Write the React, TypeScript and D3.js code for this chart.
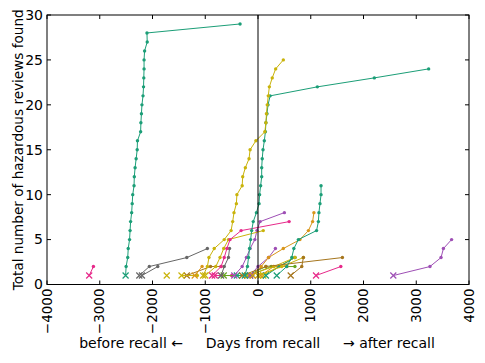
import * as d3 from "d3"

// each series: [days from recall, hazardous reviews found]
type Pt = [number, number]

const xTicks = [-4000, -3000, -2000, -1000, 0, 1000, 2000, 3000, 4000]
const yTicks = [0, 5, 10, 15, 20, 25, 30]

const tealLeft: Pt[] = [[-2510, 1], [-2500, 2], [-2470, 3], [-2460, 4], [-2435, 5], [-2425, 6], [-2415, 7], [-2395, 8], [-2385, 9], [-2375, 10], [-2350, 11], [-2345, 12], [-2330, 13], [-2310, 14], [-2290, 15], [-2285, 16], [-2225, 17], [-2220, 18], [-2210, 19], [-2200, 20], [-2180, 21], [-2170, 22], [-2165, 23], [-2160, 24], [-2160, 25], [-2150, 26], [-2100, 27], [-2105, 28], [-340, 29]]
const tealMid: Pt[] = [[-250, 1], [-200, 2], [-180, 3], [-160, 4], [-140, 5], [-120, 6], [-90, 7], [-30, 8], [20, 9], [30, 10], [50, 11], [70, 12], [70, 13], [80, 14], [95, 15], [120, 16], [140, 17], [150, 18], [170, 19], [190, 20], [230, 21], [1125, 22], [2205, 23], [3235, 24]]
const tealRight: Pt[] = [[355, 1], [545, 2], [640, 3], [680, 4], [765, 5], [1110, 6], [1145, 7], [1155, 8], [1175, 9], [1195, 10], [1195, 11]]
const yellowBig: Pt[] = [[-1040, 1], [-960, 2], [-930, 3], [-830, 4], [-640, 5], [-510, 6], [-480, 7], [-455, 8], [-410, 9], [-400, 10], [-300, 11], [-290, 12], [-240, 13], [-170, 14], [-150, 15], [-40, 16], [130, 17], [150, 18], [160, 19], [175, 20], [195, 21], [215, 22], [270, 23], [335, 24], [480, 25]]
const pinkFarLeft: Pt[] = [[-3200, 1], [-3120, 2]]
const grayA: Pt[] = [[-2250, 1], [-2060, 2], [-1350, 3], [-960, 4]]
const grayB: Pt[] = [[-2200, 1], [-1900, 2]]
const yellowLone: Pt[] = [[-1730, 1]]
const pinkMid: Pt[] = [[-870, 1], [-700, 2], [-640, 3], [-590, 4], [-530, 5], [-320, 6], [590, 7]]
const yellowMid: Pt[] = [[-1000, 1], [-800, 2], [-720, 3], [-650, 4], [-560, 5], [100, 6]]
const purpleMid: Pt[] = [[-450, 1], [-300, 2], [-220, 3], [-150, 4], [-60, 5], [-20, 6], [40, 7], [500, 8]]
const orangeA: Pt[] = [[-100, 1], [60, 2], [200, 3], [480, 4], [795, 5], [955, 6], [1035, 7], [1060, 8]]
const purpleRight: Pt[] = [[2565, 1], [3260, 2], [3470, 3], [3515, 4], [3670, 5]]
const pinkRight: Pt[] = [[1100, 1], [1570, 2]]
const brownLong: Pt[] = [[-300, 1], [150, 2], [1600, 3]]
const brownSmall: Pt[] = [[620, 1], [830, 2], [860, 3]]
const grayC: Pt[] = [[-700, 1], [-640, 2], [-560, 3], [-540, 4]]
const yellowRight: Pt[] = [[-200, 1], [300, 2], [700, 3]]
const yellowRight2: Pt[] = [[0, 1], [450, 2], [860, 3]]
const purpleC: Pt[] = [[-150, 1], [0, 2], [200, 3], [330, 4]]
const brownS1: Pt[] = [[-1350, 1], [-900, 2], [-700, 2]]
const yellowS1: Pt[] = [[-1450, 1], [-1150, 1]]
const orangeS2: Pt[] = [[-1200, 1], [-1060, 2]]
const pinkS2: Pt[] = [[-820, 1], [-500, 1]]
const greenS1: Pt[] = [[-650, 1], [-200, 1], [150, 2]]
const tealS1: Pt[] = [[-400, 1], [-100, 1]]
const greenS2: Pt[] = [[-150, 1], [250, 2], [700, 2]]
const yellowS3: Pt[] = [[100, 1], [700, 3]]
const orangeS3: Pt[] = [[50, 1], [300, 2], [550, 2]]
const tealS2: Pt[] = [[150, 1], [400, 2], [700, 3]]

const teal = "#1b9e77"
const yellow = "#c9b30a"
const pink = "#e7298a"
const gray = "#666666"
const purple = "#9e4fb5"
const orange = "#d9961a"
const brown = "#a6761d"
const green = "#66a61e"

const series: { pts: Pt[]; color: string }[] = [
  { pts: brownS1, color: brown },
  { pts: yellowS1, color: yellow },
  { pts: orangeS2, color: orange },
  { pts: pinkS2, color: pink },
  { pts: greenS1, color: green },
  { pts: tealS1, color: teal },
  { pts: greenS2, color: green },
  { pts: yellowS3, color: yellow },
  { pts: orangeS3, color: orange },
  { pts: tealS2, color: teal },
  { pts: grayC, color: gray },
  { pts: yellowRight, color: yellow },
  { pts: yellowRight2, color: yellow },
  { pts: purpleC, color: purple },
  { pts: brownLong, color: brown },
  { pts: brownSmall, color: brown },
  { pts: pinkRight, color: pink },
  { pts: purpleRight, color: purple },
  { pts: orangeA, color: orange },
  { pts: purpleMid, color: purple },
  { pts: yellowMid, color: yellow },
  { pts: pinkMid, color: pink },
  { pts: yellowLone, color: yellow },
  { pts: grayB, color: gray },
  { pts: grayA, color: gray },
  { pts: pinkFarLeft, color: pink },
  { pts: tealRight, color: teal },
  { pts: tealMid, color: teal },
  { pts: yellowBig, color: yellow },
  { pts: tealLeft, color: teal },
]

const left = 47
const right = 469
const top = 15
const bottom = 284.5

export default function App() {
  const x = d3.scaleLinear().domain([-4000, 4000]).range([left, right])
  const y = d3.scaleLinear().domain([0, 30]).range([bottom, top])
  const line = d3.line<Pt>().x(d => x(d[0])).y(d => y(d[1]))
  const font = "DejaVu Sans, sans-serif"

  return (
    <svg width={485} height={363} style={{ position: "absolute", left: 0, top: 0, background: "#fff" }}
      fontFamily={font}>
      <rect width={485} height={363} fill="#fff" />
      {series.map((s, i) => (
        <g key={i}>
          <path d={line(s.pts) ?? ""} fill="none" stroke={s.color} strokeWidth={1} />
          {s.pts.map((p, j) => j === 0 ? (
            <path key={j} d={`M${x(p[0]) - 3},${y(p[1]) - 3}L${x(p[0]) + 3},${y(p[1]) + 3}M${x(p[0]) - 3},${y(p[1]) + 3}L${x(p[0]) + 3},${y(p[1]) - 3}`}
              stroke={s.color} strokeWidth={1.2} fill="none" />
          ) : (
            <circle key={j} cx={x(p[0])} cy={y(p[1])} r={1.7} fill={s.color} />
          ))}
        </g>
      ))}
      <line x1={x(0)} x2={x(0)} y1={top} y2={bottom} stroke="#000" strokeWidth={1} />
      <rect x={left} y={top} width={right - left} height={bottom - top} fill="none" stroke="#000" strokeWidth={1} />
      {xTicks.map(t => (
        <g key={t}>
          <line x1={x(t)} x2={x(t)} y1={bottom} y2={bottom - 4} stroke="#000" />
          <line x1={x(t)} x2={x(t)} y1={top} y2={top + 4} stroke="#000" />
          <text transform={`translate(${x(t)},${bottom + 4}) rotate(-90)`} textAnchor="end" dy="0.35em" fontSize={13.5}>
            {t < 0 ? "\u2212" + Math.abs(t) : String(t)}
          </text>
        </g>
      ))}
      {yTicks.map(t => (
        <g key={t}>
          <line x1={left} x2={left + 4} y1={y(t)} y2={y(t)} stroke="#000" />
          <line x1={right} x2={right - 4} y1={y(t)} y2={y(t)} stroke="#000" />
          <text x={left - 4} y={y(t)} textAnchor="end" dy="0.35em" fontSize={14}>{t}</text>
        </g>
      ))}
      <text transform={`translate(18,${(top + bottom) / 2}) rotate(-90)`} textAnchor="middle" dy="0.35em" fontSize={13.6}>
        Total number of hazardous reviews found
      </text>
      <text x={183} y={348} textAnchor="end" fontSize={14}>before recall ←</text>
      <text x={263} y={348} textAnchor="middle" fontSize={14}>Days from recall</text>
      <text x={343} y={348} textAnchor="start" fontSize={14}>→ after recall</text>
    </svg>
  )
}
